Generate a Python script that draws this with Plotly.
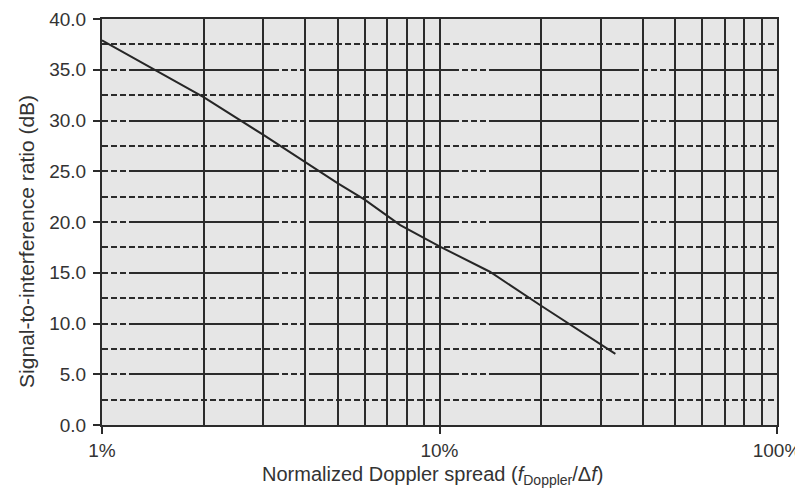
import plotly.graph_objects as go

# Data
doppler_pct = [1, 2, 3, 4, 5, 6, 7.65, 10, 14.1, 19.9, 33.2]
sir_db = [37.9, 32.3, 28.6, 25.9, 23.8, 22.2, 19.7, 17.6, 15.1, 11.8, 7.0]

x_tick_vals = [1, 10, 100]
x_tick_text = ["1%", "10%", "100%"]
x_minor_vals = [2, 3, 4, 5, 6, 7, 8, 9, 20, 30, 40, 50, 60, 70, 80, 90]
y_tick_vals = [0, 5, 10, 15, 20, 25, 30, 35, 40]

x_title = "Normalized Doppler spread (<i>f</i><sub>Doppler</sub>/Δ<i>f</i>)"
y_title = "Signal-to-interference ratio (dB)"

GRID = "#2b2b2b"
TXT = "#333333"
FONT = "Liberation Sans, Arial, Helvetica, sans-serif"

fig = go.Figure()
fig.add_trace(go.Scatter(
    x=doppler_pct, y=sir_db, mode="lines",
    line=dict(color="#262626", width=2),
    showlegend=False, hoverinfo="skip",
))

fig.update_layout(
    width=795, height=483,
    margin=dict(l=94, r=26, t=11, b=66),
    paper_bgcolor="white",
    plot_bgcolor="#e6e6e6",
    font=dict(family=FONT, size=19, color=TXT),
    xaxis=dict(
        type="log", range=[0, 2], automargin=False,
        tickmode="array", tickvals=x_tick_vals, ticktext=x_tick_text,
        ticks="outside", ticklen=7, tickwidth=1.5, tickcolor=GRID,
        showgrid=True, gridcolor=GRID, gridwidth=1.8,
        minor=dict(tickmode="array", tickvals=x_minor_vals, showgrid=True,
                   gridcolor=GRID, gridwidth=1.8, ticks=""),
        showline=True, linecolor=GRID, linewidth=2, mirror=True,
        zeroline=False,
        tickfont=dict(size=19, color=TXT),
    ),
    yaxis=dict(
        range=[0, 40], automargin=False,
        tickmode="array", tickvals=y_tick_vals, tickformat=".1f",
        ticks="outside", ticklen=7, tickwidth=1.5, tickcolor=GRID,
        ticklabelstandoff=3,
        showgrid=True, gridcolor=GRID, gridwidth=1.8,
        griddash="6px,3px,6px,3px,6px,3px,30px,3px",
        minor=dict(dtick=2.5, tick0=0, showgrid=True, gridcolor=GRID,
                   gridwidth=1.8, griddash="6px,3px", ticks=""),
        showline=True, linecolor=GRID, linewidth=2, mirror=True,
        zeroline=False,
        tickfont=dict(size=19, color=TXT),
    ),
    annotations=[
        dict(text=x_title, xref="paper", yref="paper", x=0.49, y=0,
             xanchor="center", yanchor="middle", yshift=-50, showarrow=False,
             font=dict(size=20, color=TXT)),
        dict(text=y_title, xref="paper", yref="paper", x=0, y=0.451,
             xanchor="center", yanchor="middle", xshift=-75, textangle=-90,
             showarrow=False, font=dict(size=21, color=TXT)),
    ],
)

fig.write_html("out.html")
